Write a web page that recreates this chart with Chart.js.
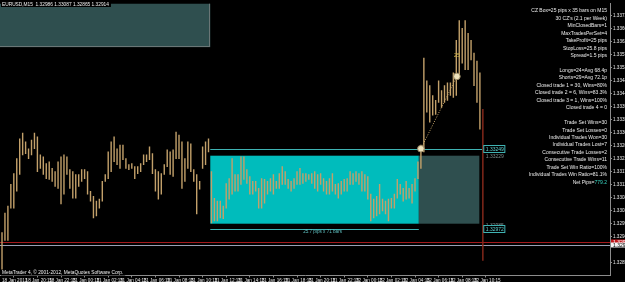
<!DOCTYPE html>
<html>
<head>
<meta charset="utf-8">
<script src="https://cdn.jsdelivr.net/npm/chart.js@4.4.1/dist/chart.umd.min.js"></script>
<style>
  html, body { margin: 0; padding: 0; background: #000; overflow: hidden; width: 625px; height: 282px; }
  canvas { display: block; }
</style>
</head>
<body>
<canvas id="c" width="645" height="282"></canvas>
<script>
// EURUSD M15 bars (bar index = M15 bar from 18 Jan 18:15)
const highs = [
  1.32959, 1.33027, 1.33051, 1.33126, 1.33163, 1.33215, 1.33283, 1.33303, 1.33273, 1.33249,
  1.33279, 1.33303, 1.33290, 1.33228, 1.33221, 1.33198, 1.33204, 1.33181, 1.33170, 1.33204,
  1.33221, 1.33228, 1.33221, 1.33177, 1.33170, 1.33160, 1.33160, 1.33177, 1.33177, 1.33170,
  1.33102, 1.33085, 1.33068, 1.33075, 1.33136, 1.33160, 1.33238, 1.33273, 1.33290, 1.33249,
  1.33262, 1.33262, 1.33215, 1.33194, 1.33198, 1.33187, 1.33187, 1.33198, 1.33228, 1.33228,
  1.33256, 1.33232, 1.33177, 1.33170, 1.33163, 1.33194, 1.33245, 1.33238, 1.33245, 1.33307,
  1.33296, 1.33273, 1.33215, 1.33273, 1.33266, 1.33177, 1.33160, 1.33136, 1.33256, 1.33273,
  1.33283,
  // consolidation zone (71 bars)
  1.33170, 1.33078, 1.33068, 1.33068, 1.33051, 1.33129, 1.33146, 1.33215, 1.33160, 1.33160,
  1.33221, 1.33221, 1.33177, 1.33153, 1.33136, 1.33136, 1.33112, 1.33146, 1.33143, 1.33136,
  1.33146, 1.33160, 1.33136, 1.33163, 1.33187, 1.33170, 1.33143, 1.33136, 1.33146, 1.33170,
  1.33181, 1.33163, 1.33163, 1.33160, 1.33163, 1.33170, 1.33160, 1.33163, 1.33146, 1.33136,
  1.33146, 1.33163, 1.33126, 1.33129, 1.33136, 1.33143, 1.33146, 1.33170, 1.33163, 1.33170,
  1.33163, 1.33170, 1.33160, 1.33153, 1.33092, 1.33075, 1.33085, 1.33126, 1.33075, 1.33068,
  1.33075, 1.33078, 1.33092, 1.33143, 1.33126, 1.33112, 1.33136, 1.33112, 1.33126, 1.33146,
  1.33204,
  // breakout and after
  1.33262,
  1.33562, 1.33484, 1.33467, 1.33433, 1.33416, 1.33484, 1.33450, 1.33467, 1.33477, 1.33477,
  1.33511, 1.33624, 1.33692, 1.33665, 1.33692, 1.33648, 1.33624, 1.33580, 1.33552, 1.33511,
  1.33385
];
const lows = [
  1.32829, 1.32932, 1.32932, 1.33044, 1.33044, 1.33102, 1.33160, 1.33228, 1.33232, 1.33215,
  1.33228, 1.33249, 1.33170, 1.33181, 1.33160, 1.33146, 1.33143, 1.33136, 1.33119, 1.33112,
  1.33058, 1.33092, 1.33160, 1.33112, 1.33078, 1.33078, 1.33119, 1.33136, 1.33146, 1.33092,
  1.33068, 1.33010, 1.33017, 1.33044, 1.33068, 1.33136, 1.33146, 1.33170, 1.33204, 1.33194,
  1.33181, 1.33211, 1.33181, 1.33177, 1.33181, 1.33146, 1.33163, 1.33170, 1.33194, 1.33204,
  1.33211, 1.33163, 1.33102, 1.33075, 1.33092, 1.33160, 1.33187, 1.33160, 1.33153, 1.33215,
  1.33215, 1.33112, 1.33136, 1.33181, 1.33170, 1.33136, 1.33024, 1.33109, 1.33181, 1.33194,
  1.33238,
  1.32993, 1.33000, 1.33000, 1.33010, 1.33007, 1.33044, 1.33075, 1.33092, 1.33102, 1.33102,
  1.33126, 1.33143, 1.33129, 1.33092, 1.33092, 1.33102, 1.33044, 1.33044, 1.33061, 1.33092,
  1.33102, 1.33092, 1.33112, 1.33112, 1.33126, 1.33126, 1.33112, 1.33102, 1.33112, 1.33126,
  1.33126, 1.33129, 1.33136, 1.33143, 1.33129, 1.33112, 1.33102, 1.33126, 1.33102, 1.33092,
  1.33092, 1.33102, 1.33092, 1.33078, 1.33092, 1.33102, 1.33102, 1.33126, 1.33126, 1.33136,
  1.33126, 1.33102, 1.33102, 1.33075, 1.33000, 1.33010, 1.33017, 1.33024, 1.33034, 1.33024,
  1.33000, 1.33044, 1.33044, 1.33078, 1.33092, 1.33068, 1.33075, 1.33078, 1.33061, 1.33102,
  1.33146,
  1.33181,
  1.33238, 1.33375, 1.33341, 1.33365, 1.33368, 1.33409, 1.33392, 1.33409, 1.33416, 1.33433,
  1.33426, 1.33433, 1.33504, 1.33545, 1.33522, 1.33522, 1.33556, 1.33467, 1.33409, 1.33317,
  1.32863
];

// time axis: one label every 8 bars (2 hours)
const timeTickBars = [0, 8, 16, 24, 32, 40, 48, 56, 64, 72, 80, 88, 96, 104, 112, 120, 128, 136, 144, 152, 160];
const timeLabels = [
  '18 Jan 2013', '18 Jan 20:15', '18 Jan 22:15', '21 Jan 00:15', '21 Jan 02:15', '21 Jan 04:15',
  '21 Jan 06:15', '21 Jan 08:15', '21 Jan 10:15', '21 Jan 12:15', '21 Jan 14:15', '21 Jan 16:15',
  '21 Jan 18:15', '21 Jan 20:15', '21 Jan 22:15', '22 Jan 00:15', '22 Jan 02:15', '22 Jan 04:15',
  '22 Jan 06:15', '22 Jan 08:15', '22 Jan 10:15'
];
const priceTicks = [
  1.33710, 1.33665, 1.33620, 1.33575, 1.33530, 1.33485, 1.33440, 1.33395, 1.33350, 1.33305,
  1.33260, 1.33215, 1.33170, 1.33125, 1.33080, 1.33035, 1.32990, 1.32945, 1.32855
];

// consolidation zone and trade
const zoneBars = [70.6, 141.3];      // cyan box, start/end bar
const zoneAfterBars = [141.3, 161.8];// grey continuation box
const zonePrices = [1.32990, 1.33225];
const entryLine = [1.33249, 70.6, 162.8];   // price, from bar, to bar
const stopLine = [1.32972, 70.6, 141.3];
const zoneTagPrices = [1.33229, 1.32985];
const tradeBars = [142, 154.2];
const tradePrices = [1.33249, 1.33499];
const takeProfitText = '25';
const zoneText = '25.7 pips x 71 bars';
const askPrice = 1.32926, bidPrice = 1.32915;
const panelBox = [-1, 70.6, 1.33600, 1.33760];   // dark panel top left

const title = 'EURUSD,M15  1.32986 1.33087 1.32865 1.32914';
const footer = 'MetaTrader 4, \u00A9 2001-2012, MetaQuotes Software Corp.';
const statsLines = [
  'CZ Box=25 pips x 35 bars on M15', "30 CZ's (2.1 per Week)", 'MinClosedBars=1', 'MaxTradesPerSet=4',
  'TakeProfit=25 pips', 'StopLoss=25.8 pips', 'Spread=1.5 pips', '',
  'Longs=24=Avg 68.4p', 'Shorts=29=Avg 72.1p', 'Closed trade 1 = 30, Wins=80%',
  'Closed trade 2 = 6, Wins=83.3%', 'Closed trade 3 = 1, Wins=100%', 'Closed trade 4 = 0', '',
  'Trade Set Wins=30', 'Trade Set Losses=0', 'Individual Trades Won=30', 'Individual Trades Lost=7',
  'Consecutive Trade Losses=2', 'Consecutive Trade Wins=11', 'Trade Set Win Ratio=100%',
  'Individual Trades Win Ratio=81.1%', 'Net Pips='
];
const netPips = '779.2';

const FONT = '"Liberation Sans", Arial, sans-serif';
const BAR = '#c2a06a', LASTBAR = '#8a2a1c', CYAN = '#00bcbc', LINE = '#3fb3b3', AXIS = '#8c8c8c';

const overlay = {
  id: 'mt4',
  beforeDraw(chart) {
    const ctx = chart.ctx;
    ctx.save();
    ctx.fillStyle = '#000';
    ctx.fillRect(0, 0, chart.width, chart.height);
    ctx.restore();
  },
  beforeDatasetsDraw(chart) {
    const { ctx, chartArea: a, scales: { x, y } } = chart;
    ctx.save();
    ctx.beginPath(); ctx.rect(a.left, a.top, a.right - a.left, a.bottom - a.top); ctx.clip();
    // top-left panel
    let x0 = x.getPixelForValue(panelBox[0]), x1 = x.getPixelForValue(panelBox[1]);
    let y0 = y.getPixelForValue(panelBox[3]), y1 = y.getPixelForValue(panelBox[2]);
    ctx.fillStyle = '#2f4f4f';
    ctx.fillRect(x0, y0, x1 - x0, y1 - y0);
    ctx.strokeStyle = '#6a7676'; ctx.lineWidth = 1;
    ctx.strokeRect(Math.round(x0) + 0.5, Math.round(y0) + 0.5, Math.round(x1 - x0) - 1, Math.round(y1 - y0) - 1);
    // zone boxes
    const zt = y.getPixelForValue(zonePrices[1]), zb = y.getPixelForValue(zonePrices[0]);
    x0 = x.getPixelForValue(zoneBars[0]); x1 = x.getPixelForValue(zoneBars[1]);
    ctx.fillStyle = CYAN; ctx.fillRect(x0, zt, x1 - x0, zb - zt);
    x0 = x.getPixelForValue(zoneAfterBars[0]); x1 = x.getPixelForValue(zoneAfterBars[1]);
    ctx.fillStyle = '#2f4f4f'; ctx.fillRect(x0, zt, x1 - x0, zb - zt);
    // entry / stop lines
    const hline = (p, b0, b1, col) => {
      const yy = Math.round(y.getPixelForValue(p)) + 0.5;
      ctx.strokeStyle = col; ctx.lineWidth = 1;
      ctx.beginPath(); ctx.moveTo(x.getPixelForValue(b0), yy); ctx.lineTo(x.getPixelForValue(b1), yy); ctx.stroke();
    };
    hline(entryLine[0], entryLine[1], entryLine[2], LINE);
    hline(stopLine[0], stopLine[1], stopLine[2], LINE);
    hline(askPrice, -5, 300, '#a3181c');
    hline(bidPrice, -5, 300, '#9aa0b4');
    ctx.restore();
  },
  afterDatasetsDraw(chart) {
    const { ctx, scales: { x, y } } = chart;
    ctx.save();
    ctx.textBaseline = 'middle';
    // zone caption
    ctx.font = '4.6px ' + FONT; ctx.fillStyle = '#5fc0c0'; ctx.textAlign = 'center';
    ctx.fillText(zoneText, (x.getPixelForValue(zoneBars[0]) + x.getPixelForValue(zoneBars[1])) / 2 + 8,
      y.getPixelForValue(stopLine[0]) + 2.5);
    // take profit label
    ctx.font = '5px ' + FONT; ctx.fillStyle = '#d8bc4a';
    ctx.fillText(takeProfitText, x.getPixelForValue(tradeBars[1]), y.getPixelForValue(tradePrices[1]) - 21);
    // price tags of the zone lines
    const tag = (p, boxed, dy) => {
      const yy = Math.round(y.getPixelForValue(p)) + dy;
      const xx = x.getPixelForValue(entryLine[2]) + 3;
      ctx.font = '5px ' + FONT; ctx.textAlign = 'left';
      const w = ctx.measureText(p.toFixed(5)).width;
      if (boxed) {
        ctx.fillStyle = '#000'; ctx.fillRect(xx - 1, yy - 3, w + 3, 6);
        ctx.strokeStyle = '#3fb3b3'; ctx.strokeRect(xx - 1.5, yy - 3.5, w + 3, 7);
        ctx.fillStyle = '#5fd0d0';
      } else {
        ctx.fillStyle = '#7a8a8a';
      }
      ctx.fillText(p.toFixed(5), xx + 0.5, yy + 0.5);
    };
    tag(zoneTagPrices[0], false, 1);
    tag(zoneTagPrices[1], false, 0);
    tag(entryLine[0], true, 0);
    tag(stopLine[0], true, 0);
    // stats block
    ctx.font = '5px ' + FONT; ctx.textAlign = 'right';
    const rx = 607, top = 11, step = 7.45;
    statsLines.forEach((t, i) => {
      if (!t) return;
      let xx = rx;
      if (i === statsLines.length - 1) {
        ctx.fillStyle = '#39d7c4';
        ctx.fillText(netPips, rx, top + i * step);
        xx = rx - ctx.measureText(netPips).width;
      }
      ctx.fillStyle = '#ececec';
      ctx.fillText(t, xx, top + i * step);
    });
    // title and footer
    ctx.textAlign = 'left'; ctx.font = '4.8px ' + FONT;
    let w = ctx.measureText(title).width;
    ctx.fillStyle = '#000'; ctx.fillRect(1, 1, w + 3, 6);
    ctx.fillStyle = '#f0f0f0'; ctx.fillText(title, 2, 4.3);
    w = ctx.measureText(footer).width;
    ctx.fillStyle = '#000'; ctx.fillRect(1, 269.5, w + 3, 6);
    ctx.fillStyle = '#f0f0f0'; ctx.fillText(footer, 2, 272.6);
    ctx.restore();
  },
  afterDraw(chart) {
    const { ctx, chartArea: a, scales: { y } } = chart;
    ctx.save();
    ctx.font = '5px ' + FONT; ctx.textAlign = 'left'; ctx.textBaseline = 'middle';
    const axisTag = (p, bg, fg) => {
      const yy = Math.round(y.getPixelForValue(p));
      ctx.fillStyle = bg; ctx.fillRect(a.right + 1, yy - 2.5, 34, 5);
      ctx.fillStyle = fg; ctx.fillText(p.toFixed(5), a.right + 3, yy + 0.3);
    };
    axisTag(askPrice, '#c0171b', '#ffffff');
    axisTag(bidPrice, '#f4f4f4', '#000000');
    ctx.restore();
  }
};

const ctx = document.getElementById('c').getContext('2d');
new Chart(ctx, {
  type: 'bar',
  data: {
    datasets: [
      {
        type: 'line',
        data: tradeBars.map((b, i) => ({ x: b, y: tradePrices[i] })),
        borderColor: '#c9a86a', borderWidth: 1, borderDash: [1, 1.5],
        pointRadius: 3.3, pointBackgroundColor: '#eee2bc', pointBorderColor: '#9b8a66', pointBorderWidth: 1,
        order: 0
      },
      {
        type: 'bar',
        data: highs.map((h, i) => ({ x: i, y: [lows[i], h] })),
        backgroundColor: highs.map((h, i) => i === highs.length - 1 ? LASTBAR : BAR),
        barThickness: 0.75, grouped: false, borderWidth: 0,
        order: 1
      }
    ]
  },
  options: {
    responsive: false, animation: false, events: [],
    layout: { padding: 0, autoPadding: false },
    plugins: { legend: { display: false }, tooltip: { enabled: false } },
    scales: {
      x: {
        type: 'linear', min: -0.68, max: 206.1, offset: false,
        grid: { drawOnChartArea: false, drawTicks: true, tickLength: 2, color: AXIS },
        border: { display: true, color: AXIS },
        ticks: {
          autoSkip: false, maxRotation: 0, align: 'start', padding: 0,
          color: '#e8e8e8', font: { size: 4.6, family: FONT },
          callback: (v) => { const k = timeTickBars.indexOf(v); return k >= 0 ? timeLabels[k] : ''; }
        },
        afterBuildTicks: (s) => { s.ticks = timeTickBars.map(v => ({ value: v })); },
        afterFit: (s) => { s.height = 6.5; }
      },
      y: {
        position: 'right', min: 1.32811, max: 1.33750,
        grid: { drawOnChartArea: false, drawTicks: true, tickLength: 2, color: AXIS },
        border: { display: true, color: AXIS },
        ticks: {
          padding: 1, color: '#e8e8e8', font: { size: 4.6, family: FONT },
          callback: (v) => v.toFixed(5)
        },
        afterBuildTicks: (s) => { s.ticks = priceTicks.map(v => ({ value: v })); },
        afterFit: (s) => { s.width = 35; }
      }
    }
  },
  plugins: [overlay]
});
</script>
</body>
</html>
